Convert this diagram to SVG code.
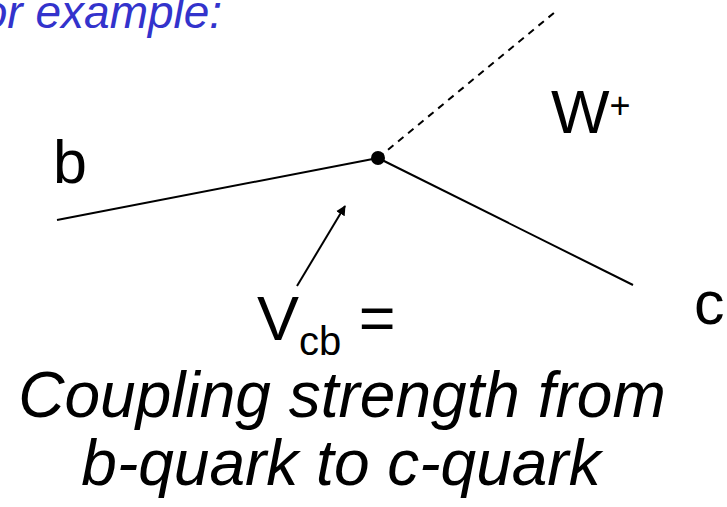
<svg xmlns="http://www.w3.org/2000/svg" width="727" height="507" viewBox="0 0 727 507">
<style>
.lbl{font-family:"Liberation Sans",Arial,sans-serif;fill:#000}
.it{font-style:italic}
.ln{stroke:#000;stroke-width:2;fill:none}
</style>
<defs>
<marker id="ah" markerWidth="10" markerHeight="10" refX="9" refY="5" orient="auto" markerUnits="userSpaceOnUse" viewBox="0 0 10 10">
<path d="M0,0 L10,5 L0,10 z" fill="#000"/>
</marker>
</defs>
<rect width="727" height="507" fill="#fff"/>
<g id="connectors">
<line class="ln" x1="57" y1="220" x2="378" y2="158"/>
<line class="ln" x1="378" y1="158" x2="633" y2="285"/>
<line class="ln" x1="378" y1="158" x2="555" y2="12" stroke-dasharray="7,6"/>
<line x1="297" y1="286" x2="345" y2="206" stroke="#000" stroke-width="2" marker-end="url(#ah)"/>
</g>
<g id="vertex"><circle cx="378" cy="158" r="7" fill="#000"/></g>
<g id="title"><text class="lbl it" x="-31" y="28" font-size="46" style="fill:#3333cc">for example:</text></g>
<g id="b"><text class="lbl" x="53" y="183" font-size="61">b</text></g>
<g id="w"><text class="lbl" x="551" y="133" font-size="62">W<tspan font-size="36" dy="-15">+</tspan></text></g>
<g id="c"><text class="lbl" x="694" y="324" font-size="61">c</text></g>
<g id="vcb"><text class="lbl" x="257" y="340" font-size="63">V<tspan font-size="40" dy="15">cb</tspan><tspan dy="-15" font-size="63"> =</tspan></text></g>
<g id="desc">
<text class="lbl it" x="342" y="417" font-size="64" text-anchor="middle">Coupling strength from</text>
<text class="lbl it" x="341" y="485" font-size="64" text-anchor="middle">b-quark to c-quark</text>
</g>
</svg>
